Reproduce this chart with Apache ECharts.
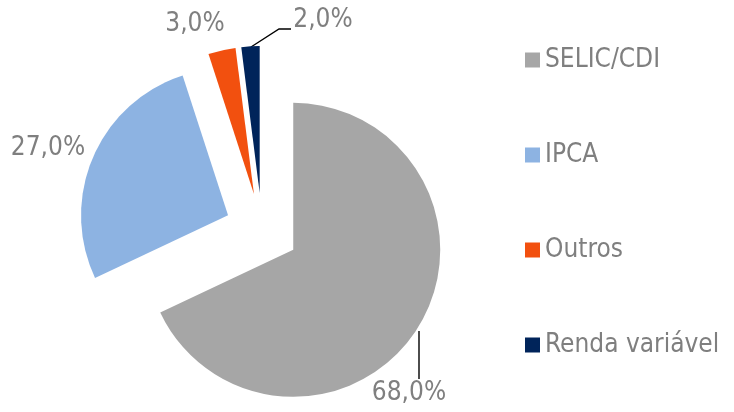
<!DOCTYPE html>
<html>
<head>
<meta charset="utf-8">
<script src="https://cdn.jsdelivr.net/npm/echarts@6/dist/echarts.min.js"></script>
<style>
  html, body { margin: 0; padding: 0; background: #fff; }
  #chart { width: 734px; height: 412px; }
</style>
</head>
<body>
<div id="chart"></div>
<script>
// data
var categories = ['SELIC/CDI', 'IPCA', 'Outros', 'Renda variável'];
var shares = [68.0, 27.0, 3.0, 2.0];

var palette = ['#a6a6a6', '#8db3e2', '#f2500f', '#00245a'];
var textGray = '#7f7f7f';
var font = 'DejaVu Sans Condensed';

// where each label sits (text centre) and its leader line, if any
var labelSpots = [
    { x: 409, y: 393, line: [[419, 331], [419, 379]] },
    { x: 48, y: 148 },
    { x: 195, y: 24 },
    { x: 323, y: 20, line: [[251, 47], [279, 29], [291, 29]] }
];

function fmt(v) {
    return v.toFixed(1).replace('.', ',') + '%';
}

var pieData = categories.map(function(name, i) {
    return {
        name: name,
        value: shares[i],
        selected: true,
        itemStyle: { color: palette[i] }
    };
});

// same values again, invisible, only to carry the labels
var labelData = categories.map(function(name, i) {
    return {
        name: name,
        value: shares[i],
        labelLine: { show: !!labelSpots[i].line }
    };
});

var chart = echarts.init(document.getElementById('chart'), null, { renderer: 'canvas' });

var option = {
    animation: false,
    backgroundColor: '#fff',
    color: palette,
    legend: {
        orient: 'vertical',
        left: 520,
        top: 40,
        itemWidth: 15,
        itemHeight: 15,
        itemGap: 65,
        itemTextGap: 7,
        icon: 'rect',
        selectedMode: false,
        data: categories,
        textStyle: {
            color: textGray,
            fontSize: 26,
            fontFamily: font,
            lineHeight: 30
        }
    },
    series: [{
        type: 'pie',
        name: 'fatias',
        center: [262, 230],
        radius: [0, 147],
        startAngle: 90,
        clockwise: true,
        selectedMode: 'multiple',
        selectedOffset: 37,
        silent: true,
        emphasis: { disabled: true },
        select: { itemStyle: { borderWidth: 0 } },
        itemStyle: { borderWidth: 0 },
        label: { show: false },
        labelLine: { show: false },
        data: pieData
    }, {
        type: 'pie',
        name: 'rotulos',
        z: 1,
        center: [262, 230],
        radius: [0, 147],
        startAngle: 90,
        clockwise: true,
        silent: true,
        selectedMode: false,
        avoidLabelOverlap: false,
        emphasis: { disabled: true },
        itemStyle: { color: 'rgba(0,0,0,0)', borderWidth: 0 },
        label: {
            show: true,
            position: 'outside',
            color: textGray,
            fontSize: 26,
            fontFamily: font,
            formatter: function(p) { return fmt(p.value); }
        },
        labelLine: {
            lineStyle: { color: '#000', width: 1.4 }
        },
        labelLayout: function(params) {
            var s = labelSpots[params.dataIndex];
            var res = { x: s.x, y: s.y, align: 'center', verticalAlign: 'middle' };
            if (s.line) {
                res.labelLinePoints = s.line;
            }
            return res;
        },
        data: labelData
    }]
};

chart.setOption(option);
</script>
</body>
</html>
